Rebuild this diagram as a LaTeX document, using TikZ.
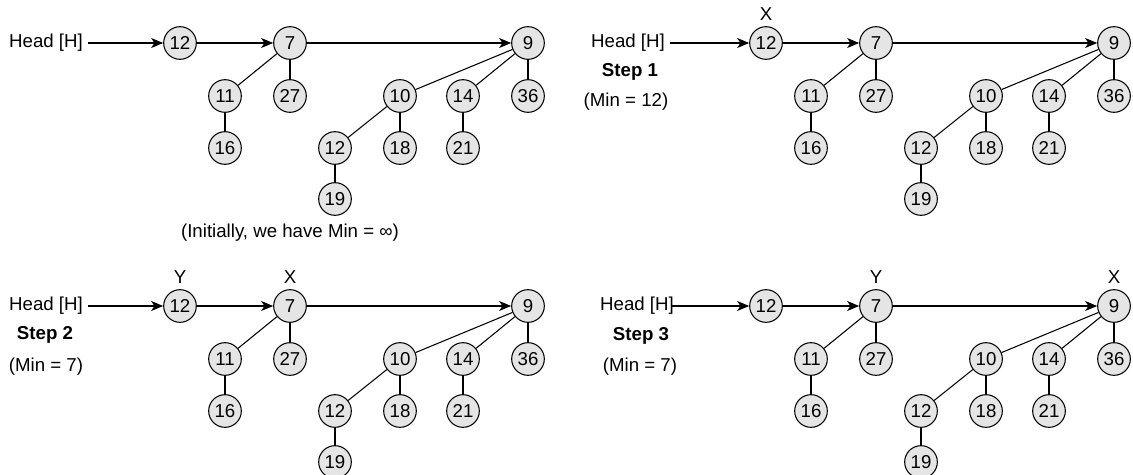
\documentclass[tikz,border=0pt]{standalone}
\usepackage{fontspec}
\setmainfont{Liberation Sans}
\usetikzlibrary{arrows.meta}
\tikzset{
  hn/.style={circle,draw=black,fill=black!10,line width=0.8pt,minimum size=24.5pt,inner sep=0pt,font=\fontsize{14}{16}\selectfont},
  lbl/.style={font=\fontsize{14}{16}\selectfont,inner sep=0pt},
  bold lbl/.style={font=\fontsize{14}{16}\selectfont\bfseries,inner sep=0pt},
  edge/.style={draw=black,line width=0.8pt},
  arr/.style={draw=black,line width=0.8pt,-{Stealth[length=9pt,width=7.5pt,inset=2.5pt]}},
}
\newcommand\heapdraw[3]{%
\begin{scope}[shift={(#2,#3)}]
  \node[hn] (#1a) at (180,43) {12};
  \node[hn] (#1b) at (290,43) {7};
  \node[hn] (#1c) at (528,43) {9};
  \node[hn] (#1d) at (225,96) {11};
  \node[hn] (#1e) at (290,96) {27};
  \node[hn] (#1f) at (225,148) {16};
  \node[hn] (#1g) at (400,96) {10};
  \node[hn] (#1h) at (463,96) {14};
  \node[hn] (#1i) at (528,96) {36};
  \node[hn] (#1j) at (335,148) {12};
  \node[hn] (#1k) at (400,148) {18};
  \node[hn] (#1l) at (463,148) {21};
  \node[hn] (#1m) at (335,199) {19};
\end{scope}
  \draw[arr] (#1a) -- (#1b);
  \draw[arr] (#1b) -- (#1c);
  \draw[edge] (#1b) -- (#1d);
  \draw[edge] (#1b) -- (#1e);
  \draw[edge] (#1d) -- (#1f);
  \draw[edge] (#1c) -- (#1g);
  \draw[edge] (#1c) -- (#1h);
  \draw[edge] (#1c) -- (#1i);
  \draw[edge] (#1g) -- (#1j);
  \draw[edge] (#1g) -- (#1k);
  \draw[edge] (#1h) -- (#1l);
  \draw[edge] (#1j) -- (#1m);
}
\begin{document}
\begin{tikzpicture}[x=0.75pt,y=-0.75pt]
\useasboundingbox (0,0) rectangle (1133,475);
% panel 1
\heapdraw{p}{0}{0}
\node[lbl] (ph) at (46,43) {Head [H]};
\draw[arr] ([xshift=4pt]ph.east) -- (pa);
\node[lbl] (pcap) at (290,233) {(Initially, we have Min = ∞)};
% panel 2
\heapdraw{q}{586}{0}
\node[lbl] (qh) at (628,43) {Head [H]};
\draw[arr] ([xshift=4pt]qh.east) -- (qa);
\node[lbl,anchor=south] (qx) at ([yshift=4pt]qa.north) {X};
\node[bold lbl] (qs) at (630,72) {Step 1};
\node[lbl] (qm) at (626,102) {(Min = 12)};
% panel 3
\heapdraw{r}{0}{263}
\node[lbl] (rh) at (46,306) {Head [H]};
\draw[arr] ([xshift=4pt]rh.east) -- (ra);
\node[lbl,anchor=south] (ry) at ([yshift=4pt]ra.north) {Y};
\node[lbl,anchor=south] (rx) at ([yshift=4pt]rb.north) {X};
\node[bold lbl] (rs) at (45,335) {Step 2};
\node[lbl] (rm) at (46,367) {(Min = 7)};
% panel 4
\heapdraw{s}{586}{263}
\node[lbl] (sh) at (637,306) {Head [H]};
\draw[arr] ([xshift=-2pt]sh.east) -- (sa);
\node[lbl,anchor=south] (sy) at ([yshift=4pt]sb.north) {Y};
\node[lbl,anchor=south] (sx) at ([yshift=4pt]sc.north) {X};
\node[bold lbl] (ss) at (641,336) {Step 3};
\node[lbl] (sm) at (640,367) {(Min = 7)};
\end{tikzpicture}
\end{document}
